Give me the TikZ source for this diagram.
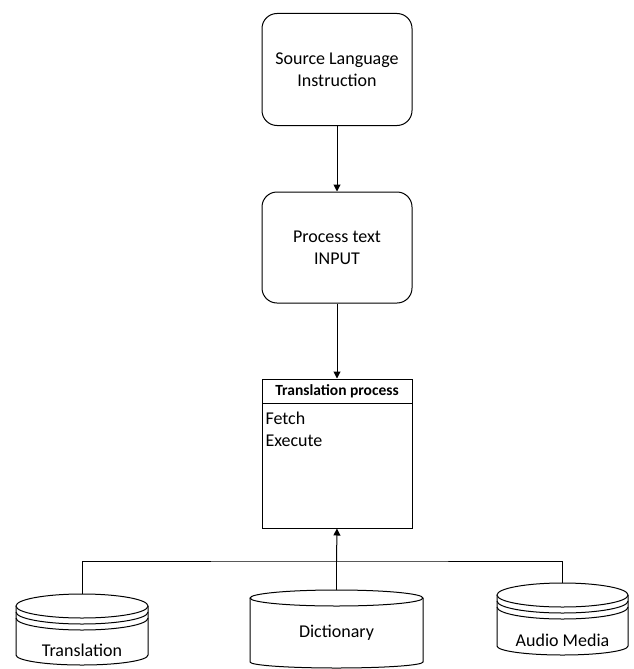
\documentclass[tikz,border=0pt]{standalone}
\usepackage{fontspec}
\setmainfont{Carlito}
\usetikzlibrary{arrows.meta}
\begin{document}
\begin{tikzpicture}[x=1pt,y=1pt,
  line width=1pt,
  txt/.style={font=\fontsize{18}{22}\selectfont, align=center},
  procbox/.style={draw, rounded corners=15pt, minimum width=150pt, minimum height=112pt, inner sep=0pt, txt},
  arr/.style={-{Triangle[length=7pt,width=7pt]}},
  disk/.style={draw, fill=white}
]
\useasboundingbox (0,0) rectangle (633,-669);

% top boxes
\node[procbox] (src) at (337,-69.5) {Source Language\\Instruction};
\node[procbox, minimum height=111pt] (proc) at (337,-247.5) {Process text\\INPUT};

% translation process box
\node[draw, minimum width=150pt, minimum height=149pt, inner sep=0pt] (tp) at (337,-453.5) {};
\coordinate (hl) at (262,-403);
\coordinate (hr) at (412,-403);
\draw (hl) -- (hr);
\node[font=\fontsize{15.5}{18}\selectfont\bfseries] (tph) at (337,-391) {Translation process};
\node[font=\fontsize{18}{22}\selectfont, align=left, anchor=north west, inner sep=0pt] (tpb) at (265,-411) {Fetch\\Execute};

\draw[arr] (src.south) -- (proc.north);
\draw[arr] (proc.south) -- (tp.north);

% Translation disk
\draw[disk] (16,-606) -- (16,-655) arc[start angle=180,end angle=360,x radius=66pt,y radius=10pt] -- (148,-606);
\draw[disk] (82,-606) ellipse[x radius=66pt,y radius=12pt];
\draw (16,-612) arc[start angle=180,end angle=360,x radius=66pt,y radius=12pt];
\draw (16,-618) arc[start angle=180,end angle=360,x radius=66pt,y radius=12pt];
\node[txt] (trans) at (82,-650) {Translation};
\coordinate (transtop) at (82,-594);

% Dictionary disk
\draw[disk] (250,-598) -- (250,-662) arc[start angle=180,end angle=360,x radius=86.5pt,y radius=6pt] -- (423,-598);
\draw[disk] (336.5,-598) ellipse[x radius=86.5pt,y radius=8pt];
\node[txt] (dict) at (336.5,-633) {Dictionary};
\coordinate (dicttop) at (336.5,-590);

% Audio Media disk
\draw[disk] (497,-595) -- (497,-646) arc[start angle=180,end angle=360,x radius=65.5pt,y radius=9pt] -- (628,-595);
\draw[disk] (562.5,-595) ellipse[x radius=65.5pt,y radius=12pt];
\draw (497,-601) arc[start angle=180,end angle=360,x radius=65.5pt,y radius=12pt];
\draw (497,-607) arc[start angle=180,end angle=360,x radius=65.5pt,y radius=12pt];
\node[txt] (audio) at (562.5,-640) {Audio Media};
\coordinate (audiotop) at (562.5,-583);

% connectors
\coordinate (junc) at (336.5,-561);
\draw (transtop) |- (junc) -| (audiotop);
\draw (dicttop) -- (junc);
\draw[arr] (junc) -- (tp.south);
\end{tikzpicture}
\end{document}
